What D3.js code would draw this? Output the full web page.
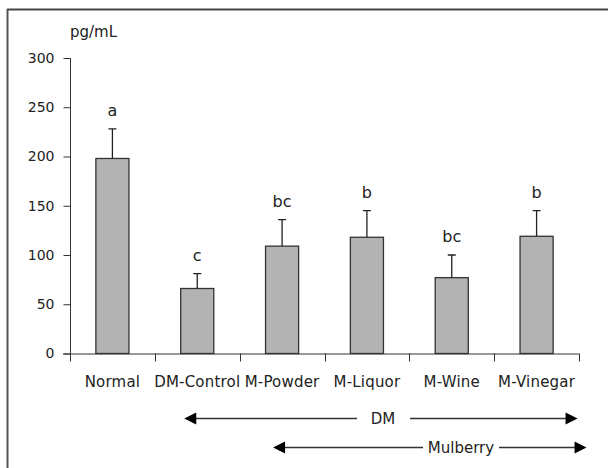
<!DOCTYPE html>
<html><head><meta charset="utf-8">
<script src="https://cdn.jsdelivr.net/npm/d3@7"></script>
<style>body{margin:0;background:#fff}svg{display:block}text{font-family:"DejaVu Sans",sans-serif;fill:#222}</style>
</head><body>
<script>
const categories = ["Normal","DM-Control","M-Powder","M-Liquor","M-Wine","M-Vinegar"];
const means = [198, 66, 109, 118, 77, 119];
const errors = [30, 15, 27, 27, 23, 26];
const letters = ["a","c","bc","b","bc","b"];
const yTicks = [0,50,100,150,200,250,300];
const unitLabel = "pg/mL";
const groupArrows = [
  {label:"DM", from:"DM-Control", to:"M-Vinegar"},
  {label:"Mulberry", from:"M-Powder", to:"M-Vinegar"}
];

const W=608,H=468;
const svg=d3.select("body").append("svg").attr("width",W).attr("height",H);

// frame (top & left only)
svg.append("line").attr("x1",7).attr("x2",W).attr("y1",9.5).attr("y2",9.5).attr("stroke","#444").attr("stroke-width",2);
svg.append("line").attr("x1",7.5).attr("x2",7.5).attr("y1",9).attr("y2",H).attr("stroke","#555").attr("stroke-width",2);

const x=d3.scaleBand().domain(categories).range([70,579]).paddingInner(0.61).paddingOuter(0.305);
const y=d3.scaleLinear().domain([0,300]).range([353.5,58]);
const band=(579-70)/categories.length;

// y axis
const ya=svg.append("g").attr("transform","translate(70.5,0)")
  .call(d3.axisLeft(y).tickValues(yTicks).tickSize(7).tickPadding(9).tickFormat(d3.format("d")));
ya.select(".domain").attr("d",`M0,${y(300)}V${y(0)}`).attr("stroke","#333");
ya.selectAll(".tick line").attr("stroke","#333");
ya.selectAll("text").attr("font-size",14).style("font-family","DejaVu Sans").attr("fill","#222");

// x axis with boundary ticks
const xg=svg.append("g");
xg.append("line").attr("x1",63).attr("x2",579).attr("y1",y(0)+0.5).attr("y2",y(0)+0.5).attr("stroke","#333");
const bounds=d3.range(categories.length+1).map(i=>70+i*band);
xg.selectAll(".bt").data(bounds).join("line")
  .attr("x1",d=>Math.round(d)+0.5).attr("x2",d=>Math.round(d)+0.5)
  .attr("y1",y(0)).attr("y2",y(0)+8).attr("stroke","#333");
xg.selectAll(".cl").data(categories).join("text")
  .attr("x",d=>x(d)+x.bandwidth()/2).attr("y",387).attr("text-anchor","middle")
  .attr("font-size",15).attr("letter-spacing",0.2).text(d=>d);

// bars
const data=categories.map((c,i)=>({c,m:means[i],e:errors[i],l:letters[i]}));
svg.selectAll(".bar").data(data).join("rect")
  .attr("x",d=>x(d.c)).attr("width",x.bandwidth())
  .attr("y",d=>y(d.m)).attr("height",d=>y(0)-y(d.m))
  .attr("fill","#b3b3b3").attr("stroke","#333").attr("stroke-width",1.3);
// error bars
svg.selectAll(".eb").data(data).join("path")
  .attr("d",d=>{const cx=x(d.c)+x.bandwidth()/2;return `M${cx},${y(d.m)}V${y(d.m+d.e)}M${cx-4},${y(d.m+d.e)}H${cx+4}`;})
  .attr("stroke","#222").attr("stroke-width",1.3).attr("fill","none");
// letters
svg.selectAll(".lt").data(data).join("text")
  .attr("x",d=>x(d.c)+x.bandwidth()/2).attr("y",d=>y(d.m+d.e)-13)
  .attr("text-anchor","middle").attr("font-size",16).text(d=>d.l);

// unit
svg.append("text").attr("x",70).attr("y",37).attr("font-size",15).text(unitLabel);

// arrows
function arrow(yy,x0,x1,label,lx,gap0,gap1){
  const g=svg.append("g");
  g.append("line").attr("x1",x0+11).attr("x2",gap0).attr("y1",yy).attr("y2",yy).attr("stroke","#333").attr("stroke-width",1.3);
  g.append("line").attr("x1",gap1).attr("x2",x1-11).attr("y1",yy).attr("y2",yy).attr("stroke","#333").attr("stroke-width",1.3);
  g.append("path").attr("d",`M${x0},${yy}L${x0+12},${yy-6}L${x0+12},${yy+6}Z`).attr("fill","#000");
  g.append("path").attr("d",`M${x1},${yy}L${x1-12},${yy-6}L${x1-12},${yy+6}Z`).attr("fill","#000");
  g.append("text").attr("x",lx).attr("y",yy+5).attr("text-anchor","middle").attr("font-size",15).text(label);
}
const a0=groupArrows[0], a1=groupArrows[1];
arrow(418.5, x(a0.from)+x.bandwidth()/2-13, x(a0.to)+x.bandwidth()/2+41, a0.label, 383, 357, 410);
arrow(447.5, x(a1.from)+x.bandwidth()/2-9, x(a1.to)+x.bandwidth()/2+50, a1.label, 461, 423, 499);
</script>
</body></html>
